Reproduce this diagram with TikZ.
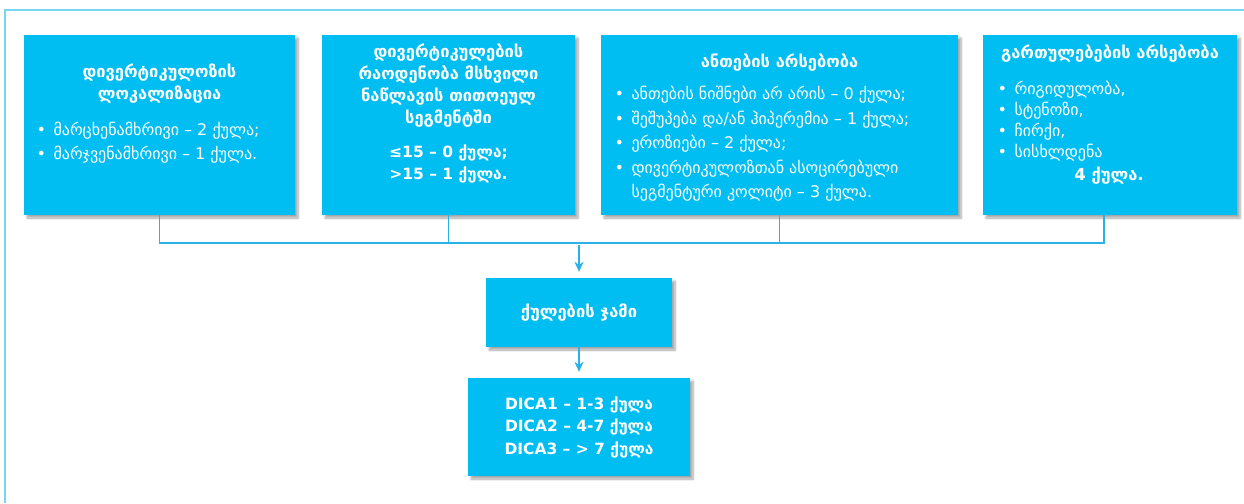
\documentclass[tikz,border=0pt]{standalone}
\usepackage{fontspec}
\setmainfont{DejaVu Sans}
\usetikzlibrary{arrows.meta,shadows.blur,positioning}

\definecolor{boxblue}{RGB}{0,190,242}
\definecolor{linkblue}{RGB}{40,178,232}
\definecolor{frameblue}{RGB}{120,214,245}

\newcommand\bul{\makebox[17pt][l]{•}}
\newcommand\cont{\hspace*{17pt}}

\tikzset{
  card/.style={fill=boxblue, inner sep=0pt,
    blur shadow={shadow xshift=3pt, shadow yshift=-3pt, shadow blur steps=8, shadow opacity=35}},
  head/.style={text=white, align=center, font=\bfseries\fontsize{16.5}{22}\selectfont},
  list/.style={text=white, align=left, anchor=west, font=\fontsize{16}{24.5}\selectfont},
  link/.style={draw=linkblue, line width=1.3pt},
}

\begin{document}
\begin{tikzpicture}[x=1pt, y=-1pt]
    \useasboundingbox (0,0) rectangle (1244,503);
    \draw[frameblue, line width=2pt] (5,503) -- (5,10.5) -- (1244,10.5);

    \node[card, minimum width=271pt, minimum height=180pt] (loc) at (159.5,125) {};
    \node[card, minimum width=253pt, minimum height=180pt] (num) at (448.5,125) {};
    \node[card, minimum width=357pt, minimum height=180pt] (infl) at (779.5,125) {};
    \node[card, minimum width=254pt, minimum height=180pt] (comp) at (1110,125) {};
    \node[card, minimum width=186pt, minimum height=69pt] (sum) at (579,312.5) {};
    \node[card, minimum width=222pt, minimum height=98pt] (dica) at (579,427) {};

    \node[head] (locHead) at (159.5,84) {დივერტიკულოზის\\ლოკალიზაცია};
    \node[list] (locList) at (33,142.5) {\bul მარცხენამხრივი – 2 ქულა;\\
        \bul მარჯვენამხრივი – 1 ქულა.};

    \node[head] (numHead) at (448.5,86) {დივერტიკულების\\რაოდენობა მსხვილი\\ნაწლავის თითოეულ\\სეგმენტში};
    \node[head, font=\bfseries\fontsize{15.5}{22}\selectfont] (numScore) at (448.5,164) {≤15 – 0 ქულა;\\>15 – 1 ქულა.};

    \node[head] (inflHead) at (779.5,63) {ანთების არსებობა};
    \node[list] (inflList) at (611,144) {\bul ანთების ნიშნები არ არის – 0 ქულა;\\
        \bul შეშუპება და/ან ჰიპერემია – 1 ქულა;\\
        \bul ეროზიები – 2 ქულა;\\
        \bul დივერტიკულოზთან ასოცირებული\\
        \cont სეგმენტური კოლიტი – 3 ქულა.};

    \node[head] (compHead) at (1110,54) {გართულებების არსებობა};
    \node[list, font=\fontsize{16}{21}\selectfont] (compList) at (994,121.5) {\bul რიგიდულობა,\\
        \bul სტენოზი,\\
        \bul ჩირქი,\\
        \bul სისხლდენა};
    \node[head] (compScore) at (1109,176) {4 ქულა.};

    \node[head] (sumText) at (sum) {ქულების ჯამი};
    \node[head, font=\bfseries\fontsize{15.5}{22.5}\selectfont] (dicaText) at (dica) {DICA1 – 1-3 ქულა\\DICA2 – 4-7 ქულა\\DICA3 – > 7 ქულა};

    \coordinate (compFoot) at ([xshift=-6pt]comp.south);
    \coordinate (join) at (sum.north |- 0,243);
    \draw[link] (loc.south) -- (loc.south |- join) -- (compFoot |- join) -- (compFoot);
    \draw[link] (num.south) -- (num.south |- join);
    \draw[link] (infl.south) -- (infl.south |- join);
    \draw[link, -{Stealth[length=10pt, width=9pt]}] ([yshift=-2pt]join) -- ([yshift=6pt]sum.north);
    \draw[link, -{Stealth[length=10pt, width=9pt]}] (sum.south) -- ([yshift=6pt]dica.north);
\end{tikzpicture}
\end{document}
